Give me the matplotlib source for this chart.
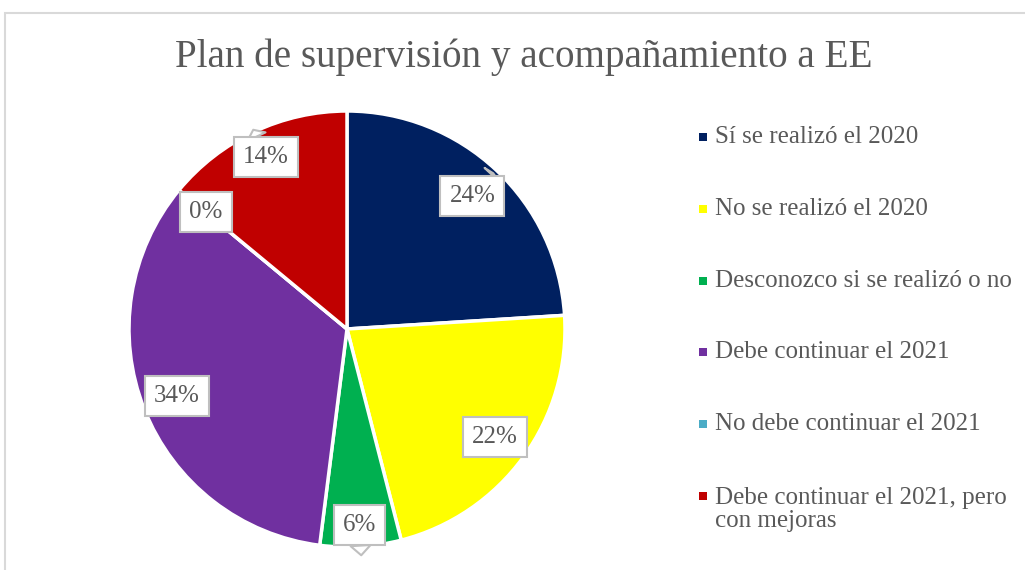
import numpy as np
import matplotlib
matplotlib.use("Agg")
import matplotlib.pyplot as plt
from matplotlib.patches import Rectangle

# data
labels = ["Sí se realizó el 2020",
          "No se realizó el 2020",
          "Desconozco si se realizó o no",
          "Debe continuar el 2021",
          "No debe continuar el 2021",
          "Debe continuar el 2021, pero\ncon mejoras"]
values = [24, 22, 6, 34, 0, 14]
colors = ["#002060", "#FFFF00", "#00B050", "#7030A0", "#4BACC6", "#C00000"]
pct_text = ["24%", "22%", "6%", "34%", "0%", "14%"]

W, H = 1025, 570
grey = "#595959"
plt.rcParams['font.family'] = ['Liberation Serif', 'DejaVu Serif']

fig = plt.figure(figsize=[W / 100, H / 100], dpi=100)

# chart border (light grey, runs off right/bottom)
fig.add_artist(Rectangle((5 / W, -0.1), 1.2, (H - 13) / H + 0.1,
                         transform=fig.transFigure, fill=False,
                         ec="#d9d9d9", lw=1.5))

fig.text(524 / W, 1 - 57 / H, "Plan de supervisión y acompañamiento a EE",
         ha="center", va="center", fontsize=28.2, color=grey)

cx, cy, r = 347, 570 - 329, 218
ax = fig.add_axes([(cx - r) / W, (cy - r) / H, 2 * r / W, 2 * r / H])
wedges, _ = ax.pie(values, colors=colors, startangle=90, counterclock=False,
                   radius=1, wedgeprops={'edgecolor': 'white', 'linewidth': 2.5})
ax.set_xlim(-1, 1)
ax.set_ylim(-1, 1)
ax.set_aspect("equal")
ax.axis("off")

# callout labels, small tail pointing outwards
label_r = [0.84, 0.84, 0.9, 0.84, 0.84, 0.87]
for w, txt, lr in zip(wedges, pct_text, label_r):
    ang = np.deg2rad((w.theta1 + w.theta2) / 2)
    x, y = lr * np.cos(ang), lr * np.sin(ang)
    tip = lr + 0.14
    ax.annotate(txt, (tip * np.cos(ang), tip * np.sin(ang)), (x, y),
                ha="center", va="center", fontsize=18, color=grey,
                annotation_clip=False,
                bbox=dict(boxstyle="square,pad=0.36", fc="white",
                          ec="#bfbfbf", lw=1.5),
                arrowprops=dict(arrowstyle="wedge,tail_width=0.8,shrink_factor=0.5",
                                fc="white", ec="#bfbfbf", lw=1.5,
                                shrinkA=0, shrinkB=0))

# legend drawn by hand to match row spacing
for i, (lab, c) in enumerate(zip(labels, colors)):
    yy = 1 - (137 + i * 71.8) / H
    fig.add_artist(Rectangle((699 / W, yy - 4 / H), 8 / W, 8 / H,
                             transform=fig.transFigure, fc=c, ec="none"))
    if "\n" in lab:
        fig.text(715 / W, yy + 9 / H, lab, ha="left", va="top",
                 fontsize=18, color=grey, linespacing=1.05)
    else:
        fig.text(715 / W, yy, lab, ha="left", va="center",
                 fontsize=18, color=grey)

fig.savefig("out.png", dpi=100)
